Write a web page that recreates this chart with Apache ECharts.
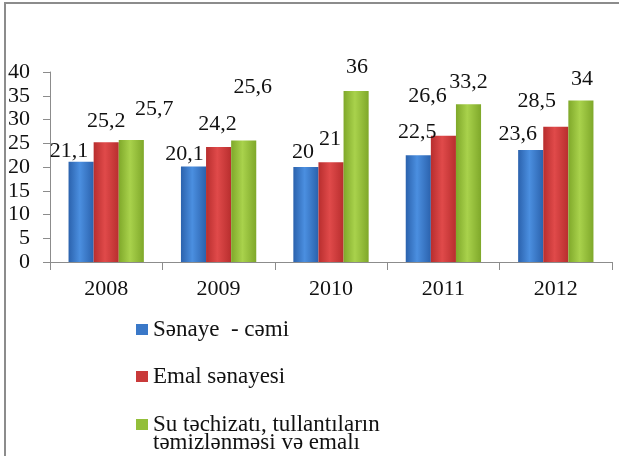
<!DOCTYPE html>
<html>
<head>
<meta charset="utf-8">
<script src="https://cdn.jsdelivr.net/npm/echarts@6/dist/echarts.min.js"></script>
<style>
  html, body { margin: 0; padding: 0; background: #fff; overflow: hidden; }
  #wrap { position: relative; width: 619px; height: 456px; overflow: hidden; }
  #frame { position: absolute; left: 4px; top: 2px; width: 700px; height: 600px;
           border-left: 2px solid #8c8c8c; border-top: 2px solid #8c8c8c; }
  #chart { position: absolute; left: 0; top: 0; width: 619px; height: 456px; }
</style>
</head>
<body>
<div id="wrap">
  <div id="frame"></div>
  <div id="chart"></div>
</div>
<script>
// data
const years = ['2008', '2009', '2010', '2011', '2012']
const seriesNames = [
  'Sənaye  - cəmi',
  'Emal sənayesi',
  'Su təchizatı, tullantıların təmizlənməsi və emalı'
]
const senayeCemi = [21.1, 20.1, 20, 22.5, 23.6]
const emalSenayesi = [25.2, 24.2, 21, 26.6, 28.5]
const suTechizati = [25.7, 25.6, 36, 33.2, 34]
const yTicks = [0, 5, 10, 15, 20, 25, 30, 35, 40]

// label nudges, like the hand placed labels in the original
const labelShift = [
  [[-12, 0], [-9, -1], [-3, -4], [-1, -12], [-13, -5]],
  [[0, -10], [-1, -12], [-1, -12], [-16, -28], [-19, -14]],
  [[23, -20], [9, -42], [1, -13], [0, -11], [1, -10]]
]

const font = 'Liberation Serif'

const barColor = (dark, light) => ({
  type: 'linear', x: 0, y: 0, x2: 1, y2: 0,
  colorStops: [
    {offset: 0, color: dark},
    {offset: 0.45, color: light},
    {offset: 1, color: dark}
  ]
})

const colors = [
  barColor('#2b62ad', '#4b8fe0'),
  barColor('#b82e2e', '#e04a4a'),
  barColor('#7fa82a', '#a9d24c')
]
const legendColors = ['#3a78c8', '#c93a3a', '#93bf3a']

const allValues = [senayeCemi, emalSenayesi, suTechizati]

// the last legend name wraps after the comma
const legendLine = (name) => {
  const k = name.indexOf(', ')
  return k < 0 ? [name, ''] : [name.slice(0, k + 1) + ' ' + name.slice(k + 2).split(' ')[0], name.slice(k + 2).split(' ').slice(1).join(' ')]
}

var chartDom = document.getElementById('chart');
var myChart = echarts.init(chartDom);
var option;

option = {
  backgroundColor: 'transparent',
  animation: false,
  textStyle: {fontFamily: font},
  grid: {
    left: 50,
    right: 7,
    top: 72,
    bottom: 194
  },
  legend: [0, 1, 2].map(i => ({
    data: [{name: seriesNames[i], itemStyle: {color: legendColors[i]}}],
    left: 131,
    top: [313, 360, 408][i],
    itemWidth: 12,
    itemHeight: 11,
    itemGap: 4,
    icon: 'rect',
    selectedMode: false,
    formatter: name => legendLine(name)[0],
    textStyle: {
      fontFamily: font,
      fontSize: 23,
      color: '#111'
    }
  })),
  graphic: [{
    type: 'text',
    left: 153,
    top: 431,
    style: {
      text: legendLine(seriesNames[2])[1],
      font: '23px "Liberation Serif"',
      fill: '#111'
    }
  }],
  xAxis: {
    type: 'category',
    data: years,
    axisLine: {lineStyle: {color: '#8c8c8c', width: 1}},
    axisTick: {show: true, length: 8, alignWithLabel: false, lineStyle: {color: '#8c8c8c'}},
    axisLabel: {fontFamily: font, fontSize: 22, color: '#111', margin: 16}
  },
  yAxis: {
    type: 'value',
    min: yTicks[0],
    max: yTicks[yTicks.length - 1],
    interval: 5,
    axisLine: {show: true, lineStyle: {color: '#8c8c8c', width: 1}},
    axisTick: {show: true, length: 7, lineStyle: {color: '#8c8c8c'}},
    splitLine: {show: false},
    axisLabel: {fontFamily: font, fontSize: 22, color: '#111', margin: 20}
  },
  series: allValues.map((vals, i) => ({
    name: seriesNames[i],
    type: 'bar',
    barGap: '0%',
    barCategoryGap: '33%',
    itemStyle: {color: colors[i]},
    label: {
      show: true,
      position: 'top',
      distance: 0,
      fontFamily: font,
      fontSize: 22,
      color: '#111',
      formatter: p => String(p.value).replace('.', ',')
    },
    data: vals.map((v, j) => ({
      value: v,
      label: {offset: labelShift[i][j]}
    }))
  }))
};
option && myChart.setOption(option);
</script>
</body>
</html>
